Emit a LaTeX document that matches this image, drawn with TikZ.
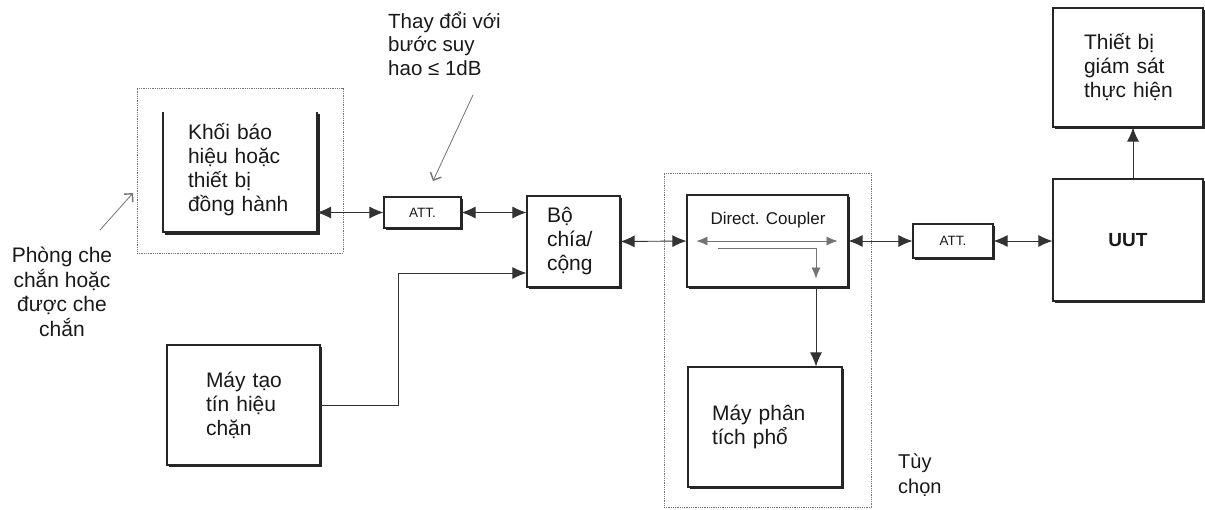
\documentclass[tikz,border=0pt]{standalone}
\usepackage{fontspec}
\setmainfont{Liberation Sans}
\usetikzlibrary{arrows.meta,shadows}
\tikzset{
  txt/.style={font=\fontsize{21}{24}\selectfont, text=black!90, align=left, inner sep=0pt},
  box/.style={txt, draw=black!85, line width=1.1pt, fill=white,
    drop shadow={shadow xshift=2.4pt, shadow yshift=-2.4pt, opacity=1, fill=black!85}},
  plainbox/.style={txt},
  dotbox/.style={draw=black!55, line width=0.8pt, densely dotted, inner sep=0pt},
  conn/.style={draw=black!80, line width=0.9pt},
  bigtip/.tip={Latex[length=14pt,width=12pt]},
  midtip/.tip={Latex[length=11pt,width=9pt]},
  dbl/.style={conn, bigtip-bigtip},
  sgl/.style={conn, -bigtip},
  smallarr/.style={draw=black!55, line width=0.8pt},
  note/.style={draw=black!55, line width=0.8pt, -{Straight Barb[length=6pt,width=12pt,line width=1.4pt]}},
  attbox/.style={box, font=\fontsize{13.5}{15}\selectfont, align=center}
}
\begin{document}
\begin{tikzpicture}[x=1pt,y=-1pt]
\useasboundingbox (0,0) rectangle (1205,509);
\fill[white] (0,0) rectangle (1205,509);

% dotted enclosures
\node[dotbox, minimum width=206pt, minimum height=165pt] (shield) at (240,170.5) {};
\node[dotbox, minimum width=207pt, minimum height=334pt] (opt) at (767.5,340) {};

% Khoi bao hieu box (open top)
\node[plainbox, minimum width=154pt, minimum height=120pt, text width=104pt] (khoi) at (240,170)
  {Khối báo\\hiệu hoặc\\thiết bị\\đồng hành};
\coordinate (kNW) at (163,112);
\coordinate (kSW) at (163,232);
\coordinate (kSE) at (317,232);
\coordinate (kNE) at (317,112);
\draw[black!85, line width=2.4pt] ([shift={(1.7,1.7)}]kSW) -- ([shift={(1.7,1.7)}]kSE) -- ([shift={(1.7,1.7)}]kNE);
\draw[black!85, line width=1.1pt] (kNW) -- (kSW) -- (kSE) -- (kNE);

% boxes
\node[attbox, minimum width=77pt, minimum height=31pt] (att1) at (422.5,212.5) {ATT.};
\node[box, minimum width=93pt, minimum height=91pt, text width=53pt] (bo) at (573.5,241.5) {Bộ\\chía/\\cộng};
\node[box, minimum width=161pt, minimum height=92pt] (cpl) at (767.5,241) {};
\node[txt, font=\fontsize{17}{19}\selectfont] (cpltext) at (768,220) {Direct. Coupler};
\node[box, minimum width=154pt, minimum height=120pt, text width=106pt] (ana) at (765,427) {Máy phân\\tích phổ};
\node[attbox, minimum width=80pt, minimum height=34pt] (att2) at (953,241) {ATT.};
\node[box, minimum width=150pt, minimum height=122pt, font=\fontsize{19}{21}\selectfont\bfseries, align=center] (uut) at (1128,240) {UUT};
\node[box, minimum width=150pt, minimum height=119pt, text width=88pt] (mon) at (1128,67.5) {\mbox{Thiết bị}\\\mbox{giám sát}\\\mbox{thực hiện}};
\node[box, minimum width=153pt, minimum height=120pt, text width=75pt] (gen) at (243.5,405) {\mbox{Máy tạo}\\\mbox{tín hiệu}\\chặn};

% free texts
\node[txt, anchor=west, font=\fontsize{20.5}{23.5}\selectfont] (note1) at (388,43.5) {Thay đổi với\\bước suy\\hao ≤ 1dB};
\node[txt, align=center, font=\fontsize{21}{24.5}\selectfont] (phong) at (62,292) {Phòng che\\chắn hoặc\\được che\\chắn};
\node[txt, anchor=west, font=\fontsize{20}{25}\selectfont] (tuy) at (898,475.5) {Tùy\\chọn};

% main connectors
\draw[dbl] (att1.west -| kSE) -- (att1.west);
\draw[dbl] (att1.east) -- (att1.east -| bo.west);
\draw[dbl] (bo.east) -- (cpl.west);
\draw[dbl] (cpl.east) -- (att2.west);
\draw[dbl] (att2.east) -- (att2.east -| uut.west);
\draw[sgl] ([xshift=5pt]uut.north) -- ([xshift=5pt]mon.south);
\coordinate (bend) at (398,273);
\draw[sgl] (gen.east) -| (bend) -- (bend -| bo.west);

% coupler internals
\draw[smallarr, midtip-midtip] ([xshift=10pt]cpl.west) -- ([xshift=-11pt]cpl.east);
\coordinate (tapstart) at (718,248);
\coordinate (tapcorner) at (816,248);
\draw[smallarr, -midtip] (tapstart) -- (tapcorner) -- ([yshift=9pt]tapcorner |- cpl.south);
\draw[sgl] (tapcorner |- cpl.south) -- (tapcorner |- ana.north);

% annotation arrows
\coordinate (noteend) at (433,181);
\draw[note] (473,95) -- (noteend);
\coordinate (shieldpt) at (133,193);
\draw[note] (100,230) -- (shieldpt);
\end{tikzpicture}
\end{document}
